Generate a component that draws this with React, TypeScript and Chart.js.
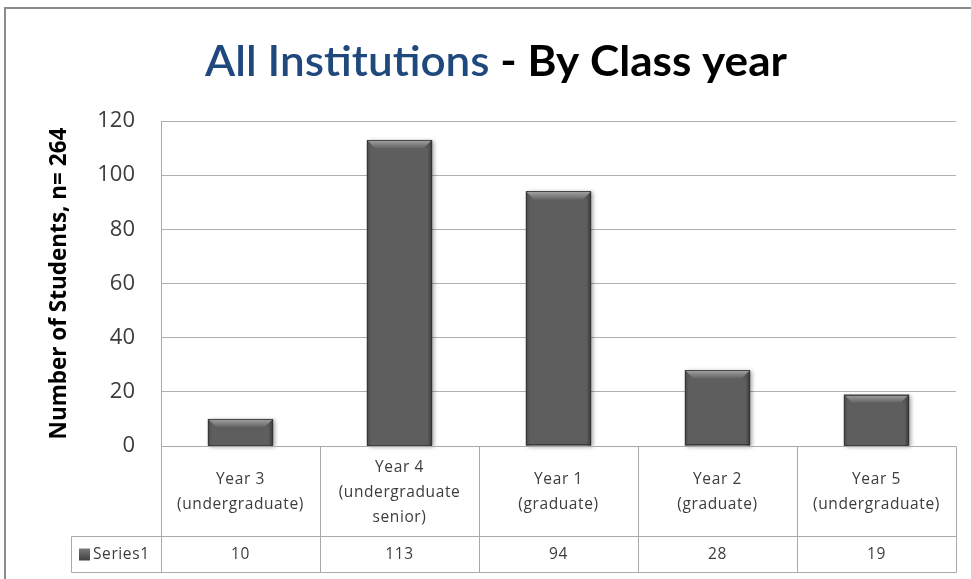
import React, { useEffect, useRef } from "react";
import { Chart, registerables } from "chart.js";

Chart.register(...registerables);

// ---- data ----
const categoryLines: string[][] = [
  ["Year 3", "(undergraduate)"],
  ["Year 4", "(undergraduate", "senior)"],
  ["Year 1", "(graduate)"],
  ["Year 2", "(graduate)"],
  ["Year 5", "(undergraduate)"],
];
const categories = categoryLines.map((l) => l.join(" "));
const seriesName = "Series1";
const values = [10, 113, 94, 28, 19];
const yMin = 0;
const yMax = 120;
const yStep = 20;
const titleMain = "All Institutions";
const titleRest = " - By Class year";
const yTitle = "Number of Students, n= 264";

// ---- styles ----
const TITLE_FONT = "Lato, 'Open Sans', 'DejaVu Sans', sans-serif";
const FONT = "'Open Sans', 'DejaVu Sans', sans-serif";
const TEXT = "#3c3c3c";
const LINE = "#a9a9a9";
const BAR = "#5e5e5e";

const HEADER_H = 90;
const VALUE_H = 36;
const KEY_LEFT = 71;

const decorPlugin = {
  id: "decor",
  beforeDatasetsDraw(chart: any) {
    const ctx = chart.ctx;
    const meta = chart.getDatasetMeta(0);
    ctx.save();
    meta.data.forEach((el: any) => {
      const { x, y, base, width } = el.getProps(["x", "y", "base", "width"], true);
      ctx.shadowColor = "rgba(0,0,0,0.35)";
      ctx.shadowBlur = 4;
      ctx.shadowOffsetX = 2;
      ctx.shadowOffsetY = 1;
      ctx.fillStyle = BAR;
      ctx.fillRect(x - width / 2, y, width, base - y);
    });
    ctx.restore();
  },
  afterDatasetsDraw(chart: any) {
    const ctx = chart.ctx;
    const meta = chart.getDatasetMeta(0);
    ctx.save();
    meta.data.forEach((el: any) => {
      const { x, y, base, width } = el.getProps(["x", "y", "base", "width"], true);
      const l = x - width / 2;
      const r = x + width / 2;
      const t = y;
      const b = base;
      const bt = Math.min(8, (b - t) / 2);
      const bs = 4;
      let g = ctx.createLinearGradient(0, t, 0, t + bt);
      g.addColorStop(0, "#a4a4a4");
      g.addColorStop(1, "#666666");
      ctx.fillStyle = g;
      ctx.beginPath();
      ctx.moveTo(l, t);
      ctx.lineTo(r, t);
      ctx.lineTo(r - bt, t + bt);
      ctx.lineTo(l + bt, t + bt);
      ctx.closePath();
      ctx.fill();
      g = ctx.createLinearGradient(l, 0, l + bs, 0);
      g.addColorStop(0, "#4a4a4a");
      g.addColorStop(1, "#5e5e5e");
      ctx.fillStyle = g;
      ctx.beginPath();
      ctx.moveTo(l, t);
      ctx.lineTo(l + bt, t + bt);
      ctx.lineTo(l + bs, t + bt);
      ctx.lineTo(l + bs, b);
      ctx.lineTo(l, b);
      ctx.closePath();
      ctx.fill();
      g = ctx.createLinearGradient(r - bs, 0, r, 0);
      g.addColorStop(0, "#575757");
      g.addColorStop(1, "#3a3a3a");
      ctx.fillStyle = g;
      ctx.beginPath();
      ctx.moveTo(r, t);
      ctx.lineTo(r - bt, t + bt);
      ctx.lineTo(r - bs, t + bt);
      ctx.lineTo(r - bs, b);
      ctx.lineTo(r, b);
      ctx.closePath();
      ctx.fill();
      ctx.strokeStyle = "rgba(50,50,50,0.8)";
      ctx.lineWidth = 1;
      ctx.strokeRect(Math.round(l) + 0.5, Math.round(t) + 0.5, Math.round(width) - 1, Math.round(b - t) - 1);
    });
    ctx.restore();
  },
  afterDraw(chart: any) {
    const ctx = chart.ctx;
    const area = chart.chartArea;
    const xs = chart.scales.x;
    const n = categories.length;
    const half = n > 1 ? (xs.getPixelForValue(1) - xs.getPixelForValue(0)) / 2 : area.width / 2;
    const y0 = Math.round(area.bottom) + 0.5;
    const y1 = y0 + HEADER_H;
    const y2 = y1 + VALUE_H;
    const right = Math.round(area.right) + 0.5;
    const left = Math.round(area.left) + 0.5;
    ctx.save();

    // outer frame
    ctx.strokeStyle = "#8c8c8c";
    ctx.lineWidth = 2;
    ctx.beginPath();
    ctx.moveTo(5, chart.height);
    ctx.lineTo(5, 8);
    ctx.lineTo(chart.width, 8);
    ctx.stroke();

    // title
    ctx.textBaseline = "alphabetic";
    const fs = 42;
    const fMain = `normal 600 ${fs}px ${TITLE_FONT}`;
    const fRest = `bold ${fs}px ${TITLE_FONT}`;
    ctx.font = fMain;
    const w1 = ctx.measureText(titleMain).width;
    ctx.font = fRest;
    const w2 = ctx.measureText(titleRest).width;
    const targetW = 582;
    const sx = targetW / (w1 + w2);
    ctx.save();
    ctx.translate(496 - targetW / 2, 76);
    ctx.scale(sx, 1);
    ctx.textAlign = "left";
    ctx.font = fMain;
    ctx.fillStyle = "#1f497d";
    ctx.fillText(titleMain, 0, 0);
    ctx.font = fRest;
    ctx.fillStyle = "#000000";
    ctx.fillText(titleRest, w1, 0);
    ctx.restore();

    // table lines
    ctx.strokeStyle = LINE;
    ctx.lineWidth = 1;
    ctx.beginPath();
    ctx.moveTo(left, y0);
    ctx.lineTo(right, y0);
    ctx.moveTo(KEY_LEFT + 0.5, y1);
    ctx.lineTo(right, y1);
    ctx.moveTo(KEY_LEFT + 0.5, y2);
    ctx.lineTo(right, y2);
    ctx.moveTo(KEY_LEFT + 0.5, y1);
    ctx.lineTo(KEY_LEFT + 0.5, y2);
    for (let i = 0; i <= n; i++) {
      const bx = i < n ? xs.getPixelForValue(i) - half : xs.getPixelForValue(n - 1) + half;
      const px = Math.round(bx) + 0.5;
      ctx.moveTo(px, y0);
      ctx.lineTo(px, y2);
    }
    ctx.stroke();

    // header text
    ctx.fillStyle = TEXT;
    ctx.font = `15.5px ${FONT}`;
    try {
      (ctx as any).letterSpacing = "0.6px";
    } catch (e) {}
    ctx.textAlign = "center";
    ctx.textBaseline = "middle";
    const lh = 25;
    categoryLines.forEach((lines, i) => {
      const cx = xs.getPixelForValue(i);
      const cy = y0 + HEADER_H / 2 + 1;
      const startY = cy - ((lines.length - 1) * lh) / 2;
      lines.forEach((s, j) => ctx.fillText(s, cx, startY + j * lh));
    });
    values.forEach((v, i) => {
      ctx.fillText(String(v), xs.getPixelForValue(i), y1 + VALUE_H / 2);
    });
    // legend key
    const ky = y1 + VALUE_H / 2;
    const kg = ctx.createLinearGradient(0, ky - 6, 0, ky + 6);
    kg.addColorStop(0, "#7a7a7a");
    kg.addColorStop(1, "#404040");
    ctx.fillStyle = kg;
    ctx.fillRect(79, ky - 6, 11, 12);
    ctx.fillStyle = TEXT;
    ctx.textAlign = "left";
    ctx.fillText(seriesName, 93, ky);
    try {
      (ctx as any).letterSpacing = "0px";
    } catch (e) {}
    ctx.restore();
  },
};

export default function App() {
  const ref = useRef<HTMLCanvasElement | null>(null);
  useEffect(() => {
    if (!ref.current) return;
    const chart = new Chart(ref.current, {
      type: "bar",
      data: {
        labels: categories,
        datasets: [
          {
            label: seriesName,
            data: values,
            backgroundColor: BAR,
            borderWidth: 0,
            categoryPercentage: 1,
            barPercentage: 0.41,
          },
        ],
      },
      options: {
        responsive: false,
        animation: false,
        devicePixelRatio: 1,
        layout: { padding: { top: 121, right: 15, bottom: 133, left: 0 } },
        plugins: {
          legend: { display: false },
          title: { display: false },
          tooltip: { enabled: false },
        },
        scales: {
          x: { display: false },
          y: {
            min: yMin,
            max: yMax,
            afterFit: (s: any) => {
              s.width = 161;
            },
            ticks: {
              stepSize: yStep,
              padding: 26,
              color: TEXT,
              font: { family: FONT, size: 22 },
            },
            grid: { color: "#b0b0b0", drawTicks: false },
            border: { display: true, color: "#a9a9a9" },
            title: {
              display: true,
              text: yTitle,
              color: "#000000",
              font: { family: FONT, size: 22.5, weight: "bold" },
              padding: { top: 46, bottom: 0 },
            },
          },
        },
      },
      plugins: [decorPlugin],
    });
    return () => chart.destroy();
  }, []);
  return (
    <div style={{ position: "fixed", left: 0, top: 0, width: 971, height: 579, background: "#fff" }}>
      <canvas ref={ref} width={971} height={579} style={{ width: 971, height: 579 }} />
    </div>
  );
}
